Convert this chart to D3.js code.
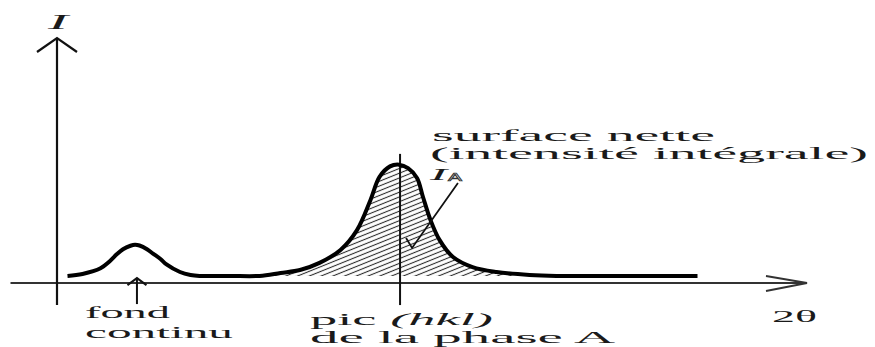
<!DOCTYPE html>
<html>
<head>
<meta charset="utf-8">
<script src="https://cdn.jsdelivr.net/npm/d3@7"></script>
<style>
  html, body { margin: 0; padding: 0; background: #fff; }
  svg { display: block; }
</style>
</head>
<body>
<script>
// Diffraction profile: a small bump on the continuous background and the (hkl) peak of phase A
const profileTheta = [0.7, 1.7, 2.9, 3.5, 4.0, 4.4, 4.9, 5.2, 5.5, 6.0, 6.4, 6.9, 7.3, 8.2, 8.9, 9.5,
                      11.5, 13.5, 14.9, 16.2, 17.5, 18.9, 20.0, 20.9, 21.5, 22.2, 22.8, 23.4, 24.0,
                      24.4, 24.9, 25.5, 26.4, 27.7, 29.3, 31.5, 33.3, 38.0, 42.7];
const profileIntensity = [2.9, 3.7, 6.0, 8.8, 11.8, 13.8, 15.2, 15.6, 15.3, 13.8, 12.0, 9.8, 7.6, 4.5, 3.3, 2.9,
                          2.9, 2.9, 4.1, 5.3, 8.2, 13.5, 21.6, 33.9, 43.3, 47.6, 48.3, 46.9, 42.9,
                          35.1, 25.7, 17.6, 10.6, 6.5, 4.5, 3.3, 2.9, 2.9, 2.9];

// Angular range of the integrated (hatched) peak and its position
const peakRange = [13.5, 33.3];
const peakCenter = 22.87;
const backgroundCenter = 5.33;
const backgroundLevel = 2.9;

// Axis extents (2θ and intensity, arbitrary units)
const thetaExtent = [-3.1, 50];
const intensityExtent = [-9, 100];

// Leader from the I_A label into the hatched area
const leaderTheta = [26.73, 23.67, 23.27];
const leaderIntensity = [40.8, 14.3, 18.4];

const W = 875, H = 347;
const x = d3.scaleLinear().domain([0, 50]).range([57, 807]);
const y = d3.scaleLinear().domain([0, 100]).range([283, 38]);
const smooth = d3.curveCatmullRom.alpha(0.5);

const svg = d3.select("body").append("svg")
  .attr("width", W).attr("height", H)
  .attr("viewBox", `0 0 ${W} ${H}`);

// hatch pattern for the net peak area
const defs = svg.append("defs");
const pat = defs.append("pattern")
  .attr("id", "hatch")
  .attr("patternUnits", "userSpaceOnUse")
  .attr("width", 4.4).attr("height", 4.4)
  .attr("patternTransform", "rotate(-22)");
pat.append("line")
  .attr("x1", -2).attr("y1", 2.2).attr("x2", 7).attr("y2", 2.2)
  .attr("stroke", "#2a2a2a").attr("stroke-width", 1.1);

const profile = profileTheta.map((t, i) => ({ t, v: profileIntensity[i] }));
const peakPts = profile.filter(d => d.t >= peakRange[0] && d.t <= peakRange[1]);

// hatched area between peak and background
svg.append("path")
  .datum(peakPts)
  .attr("fill", "url(#hatch)")
  .attr("d", d3.area()
    .x(d => x(d.t))
    .y0(y(backgroundLevel))
    .y1(d => y(d.v))
    .curve(smooth));

const ink = "#111";

// axes
svg.append("line")
  .attr("x1", x(thetaExtent[0])).attr("x2", x(thetaExtent[1]))
  .attr("y1", y(0)).attr("y2", y(0))
  .attr("stroke", "#333").attr("stroke-width", 1.8);
svg.append("polyline")
  .attr("points", [[x(thetaExtent[1]) - 41, y(0) - 7], [x(thetaExtent[1]), y(0)], [x(thetaExtent[1]) - 41, y(0) + 8]].join(" "))
  .attr("fill", "none").attr("stroke", "#333").attr("stroke-width", 1.8);

svg.append("line")
  .attr("x1", x(0)).attr("x2", x(0))
  .attr("y1", y(intensityExtent[0])).attr("y2", y(intensityExtent[1]))
  .attr("stroke", ink).attr("stroke-width", 2.2);
svg.append("polyline")
  .attr("points", [[x(0) - 20, y(intensityExtent[1]) + 14], [x(0), y(intensityExtent[1])], [x(0) + 20, y(intensityExtent[1]) + 14]].join(" "))
  .attr("fill", "none").attr("stroke", ink).attr("stroke-width", 2.2);

// vertical line at the peak position
svg.append("line")
  .attr("x1", x(peakCenter)).attr("x2", x(peakCenter))
  .attr("y1", y(intensityExtent[0])).attr("y2", y(52.7))
  .attr("stroke", ink).attr("stroke-width", 2);

// profile curve
svg.append("path")
  .datum(profile)
  .attr("fill", "none")
  .attr("stroke", "#000")
  .attr("stroke-width", 4)
  .attr("stroke-linejoin", "round")
  .attr("d", d3.line().x(d => x(d.t)).y(d => y(d.v)).curve(smooth));

// arrow pointing at the background bump
svg.append("line")
  .attr("x1", x(backgroundCenter)).attr("x2", x(backgroundCenter))
  .attr("y1", y(-8.6)).attr("y2", y(2))
  .attr("stroke", ink).attr("stroke-width", 2);
svg.append("polyline")
  .attr("points", [[x(backgroundCenter) - 9.5, y(2) + 7], [x(backgroundCenter), y(2)], [x(backgroundCenter) + 9.5, y(2) + 7]].join(" "))
  .attr("fill", "none").attr("stroke", ink).attr("stroke-width", 2);

// leader from I_A
svg.append("polyline")
  .attr("points", leaderTheta.map((t, i) => [x(t), y(leaderIntensity[i])]).join(" "))
  .attr("fill", "none").attr("stroke", ink).attr("stroke-width", 1.8)
  .attr("stroke-linejoin", "miter");

// labels
const serif = "'Liberation Serif', 'Times New Roman', serif";
function label(txt, px, py, len, opts = {}) {
  const t = svg.append("text")
    .attr("x", px).attr("y", py)
    .attr("font-family", serif)
    .attr("font-size", opts.size || 17)
    .attr("fill", opts.fill || "#1a1a1a")
    .attr("textLength", len)
    .attr("lengthAdjust", "spacingAndGlyphs");
  if (opts.italic) t.attr("font-style", "italic");
  if (typeof txt === "string") t.text(txt);
  else txt.forEach(p => {
    const s = t.append("tspan").text(p.text);
    if (p.italic) s.attr("font-style", "italic");
  });
  return t;
}

label("I", 48, 29, 20, { italic: true, size: 20 });
label("fond", 85, 318, 85);
label("continu", 85, 338, 148);
label([{ text: "pic " }, { text: "(hkl)", italic: true }], 310, 325, 183);
label("de la phase A", 310, 343, 305);
label("2θ", 772, 322, 45, { size: 17 });
label("surface nette", 432, 141, 283);
label("(intensité intégrale)", 430, 159, 438);
label("I", 430, 180, 17, { italic: true, size: 17 });
svg.append("text")
  .attr("x", 448).attr("y", 181)
  .attr("font-family", "'Liberation Sans', sans-serif")
  .attr("font-size", 11)
  .attr("fill", "none").attr("stroke", "#333").attr("stroke-width", 0.7)
  .attr("textLength", 14).attr("lengthAdjust", "spacingAndGlyphs")
  .text("A");
</script>
</body>
</html>
